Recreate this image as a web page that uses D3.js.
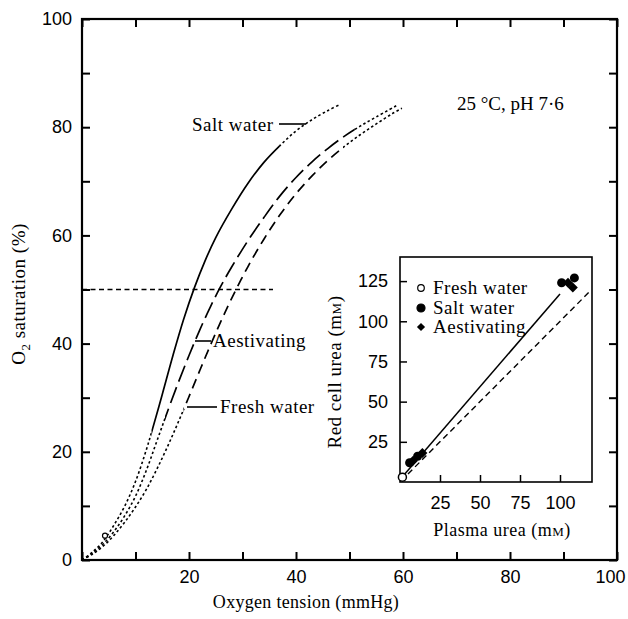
<!DOCTYPE html>
<html>
<head>
<meta charset="utf-8">
<script src="https://cdn.jsdelivr.net/npm/d3@7"></script>
<style>
  body { margin: 0; background: #fff; }
  svg { font-family: "Liberation Serif", "Times New Roman", serif; }
</style>
</head>
<body>
<div id="chart"></div>
<script>
// O2 saturation curves, [mmHg, %]
const saltWater = [[0,0],[2,1.5],[4,3.5],[6,6.5],[8,10],[10,14.5],[12,20.3],[13,23.6],[15,30.6],[17,37.8],[19,44.5],[21,50.3],[23,55.3],[25,59.6],[28,64.9],[31,69.6],[34,73.5],[37,76.6],[40,79.3],[43,81.4],[46,83.1],[48,84.1]];
const aestivating = [[0,0],[2,1.3],[4,3],[6,5.3],[8,8.2],[10,11.8],[12,16.5],[14,22],[16,27.5],[18,32.8],[20,37.8],[22,42.5],[24,46.8],[26,50.7],[28,54.2],[31,59],[34,63.3],[37,67.3],[40,70.7],[43,73.6],[46,76.1],[49,78.3],[52,80.2],[55,81.9],[59,84.1]];
const freshWater = [[0,0],[2,1.1],[4,2.6],[6,4.6],[8,7],[10,9.8],[12,13],[14,16.8],[16,21],[18,25.5],[20,30.2],[22,35],[24,39.7],[26,44.2],[28,48.4],[31,54.2],[34,59.3],[37,63.8],[40,67.7],[43,71],[46,73.9],[49,76.4],[52,78.6],[55,80.6],[58,82.5],[59.8,83.5]];
// range (mmHg) drawn with the curve's own pattern, dotted outside it
const solidRanges = { salt: [13, 37], aest: [15.5, 51], fresh: [19, 48.8] };
const halfSatLine = [[0, 50], [35.7, 50]];
const originMark = [4.3, 4.5];

const mainTicks = d3.range(0, 101, 10);

// inset: red cell urea vs plasma urea (mM)
const insetTicksX = [25, 50, 75, 100];
const insetTicksY = [25, 50, 75, 100, 125];
const insetFresh = [[1.5, 3]];
const insetSalt = [[6, 12], [11, 16], [101, 124], [109, 127]];
const insetAest = [[8, 13], [14, 18], [105, 124], [108, 121]];
const fitLine = [[3, 5], [100, 117]];
const identityLine = [[5, 5], [118, 118]];

const width = 628, height = 619;
const svg = d3.select("#chart").append("svg")
  .attr("width", width).attr("height", height);

const x = d3.scaleLinear().domain([0, 100]).range([82, 617]);
const y = d3.scaleLinear().domain([0, 100]).range([560, 19]);

// axes, ticks pointing inward
const styleAxis = (g) => {
  g.select(".domain").remove();
  g.selectAll(".tick line").attr("stroke", "#000").attr("stroke-width", 2);
  g.selectAll("text").attr("fill", "#000").style("font-size", "18px");
};
const lbl = (d) => (d % 20 === 0 ? d : "");

svg.append("g").attr("transform", `translate(${x(0)},0)`)
  .call(d3.axisLeft(y).tickValues(mainTicks).tickSize(-8).tickPadding(10).tickFormat(lbl))
  .call(styleAxis);
const xAxisG = svg.append("g").attr("transform", `translate(0,${y(0)})`)
  .call(d3.axisBottom(x).tickValues(mainTicks).tickSize(-8).tickPadding(10)
    .tickFormat((d) => (d > 0 && d % 20 === 0 ? d : "")))
  .call(styleAxis);
// keep the last label inside the page
xAxisG.selectAll(".tick text").filter((d) => d === 100).attr("dx", -7);
svg.append("g").attr("transform", `translate(0,${y(100)})`)
  .call(d3.axisTop(x).tickValues(mainTicks).tickSize(-8).tickFormat(""))
  .call(styleAxis);
svg.append("g").attr("transform", `translate(${x(100)},0)`)
  .call(d3.axisRight(y).tickValues(mainTicks).tickSize(-8).tickFormat(""))
  .call(styleAxis);

svg.append("rect")
  .attr("x", x(0)).attr("y", y(100))
  .attr("width", x(100) - x(0)).attr("height", y(0) - y(100))
  .attr("fill", "none").attr("stroke", "#000").attr("stroke-width", 2.2);

// clip regions for solid / dotted parts
const defs = svg.append("defs");
const addClip = (id, x0, x1) => {
  defs.append("clipPath").attr("id", id).append("rect")
    .attr("x", x0).attr("y", 0).attr("width", Math.max(0, x1 - x0)).attr("height", height);
};

const line = d3.line().x((d) => x(d[0])).y((d) => y(d[1])).curve(d3.curveCatmullRom.alpha(0.5));

const curves = [
  { key: "salt", data: saltWater, dash: null },
  { key: "aest", data: aestivating, dash: "17,6" },
  { key: "fresh", data: freshWater, dash: "10,6" },
];
curves.forEach((c) => {
  const [a, b] = solidRanges[c.key];
  addClip(`mid-${c.key}`, x(a), x(b));
  addClip(`lo-${c.key}`, 0, x(a));
  addClip(`hi-${c.key}`, x(b), width);
  svg.append("path").datum(c.data)
    .attr("d", line).attr("fill", "none").attr("stroke", "#000")
    .attr("stroke-width", 1.7)
    .attr("stroke-dasharray", c.dash)
    .attr("clip-path", `url(#mid-${c.key})`);
  ["lo", "hi"].forEach((p) => {
    svg.append("path").datum(c.data)
      .attr("d", line).attr("fill", "none").attr("stroke", "#000")
      .attr("stroke-width", 1.6)
      .attr("stroke-dasharray", "2.5,2.5")
      .attr("clip-path", `url(#${p}-${c.key})`);
  });
});

svg.append("path").datum(halfSatLine)
  .attr("d", d3.line().x((d) => x(d[0])).y((d) => y(d[1])))
  .attr("fill", "none").attr("stroke", "#000").attr("stroke-width", 1.5)
  .attr("stroke-dasharray", "5,3.5");

svg.append("circle").attr("cx", x(originMark[0])).attr("cy", y(originMark[1]))
  .attr("r", 2.5).attr("fill", "#fff").attr("stroke", "#000").attr("stroke-width", 1.2);

// curve labels with leader lines
const annotations = [
  { text: "Salt water", tx: 192, ty: 131, lx1: 279, lx2: 306, ly: 124 },
  { text: "Aestivating", tx: 213, ty: 347, lx1: 195, lx2: 211, ly: 341 },
  { text: "Fresh water", tx: 220, ty: 413, lx1: 187, lx2: 217, ly: 407 },
];
annotations.forEach((a) => {
  svg.append("line").attr("x1", a.lx1).attr("x2", a.lx2).attr("y1", a.ly).attr("y2", a.ly)
    .attr("stroke", "#000").attr("stroke-width", 1.6);
  svg.append("text").attr("x", a.tx).attr("y", a.ty)
    .style("font-size", "19px").style("letter-spacing", "0.5px").text(a.text);
});

svg.append("text").attr("x", 457).attr("y", 110)
  .style("font-size", "19px").text("25 °C, pH 7·6");

// axis titles
svg.append("text").attr("x", 306).attr("y", 608).attr("text-anchor", "middle")
  .style("font-size", "18px").style("letter-spacing", "0.3px").text("Oxygen tension (mmHg)");
const yt = svg.append("text").attr("transform", "translate(25,294) rotate(-90)")
  .attr("text-anchor", "middle").style("font-size", "19px").style("letter-spacing", "0.5px");
yt.append("tspan").text("O");
yt.append("tspan").attr("dy", 5).style("font-size", "13px").text("2");
yt.append("tspan").attr("dy", -5).text(" saturation (%)");

// ----- inset -----
const ix = d3.scaleLinear().domain([0, 120]).range([400, 592]);
const iy = d3.scaleLinear().domain([0, 140]).range([482, 257]);
const inset = svg.append("g");

inset.append("rect").attr("x", ix(0)).attr("y", iy(140))
  .attr("width", ix(120) - ix(0)).attr("height", iy(0) - iy(140))
  .attr("fill", "#fff").attr("stroke", "#000").attr("stroke-width", 1.6);

const styleInset = (g) => {
  g.select(".domain").remove();
  g.selectAll(".tick line").attr("stroke", "#000").attr("stroke-width", 1.5);
  g.selectAll("text").attr("fill", "#000").style("font-size", "18px");
};
inset.append("g").attr("transform", `translate(${ix(0)},0)`)
  .call(d3.axisLeft(iy).tickValues(insetTicksY).tickSize(-7).tickPadding(12))
  .call(styleInset);
inset.append("g").attr("transform", `translate(0,${iy(0)})`)
  .call(d3.axisBottom(ix).tickValues(insetTicksX).tickSize(-7).tickPadding(14))
  .call(styleInset);

const iline = d3.line().x((d) => ix(d[0])).y((d) => iy(d[1]));
inset.append("path").datum(identityLine).attr("d", iline)
  .attr("fill", "none").attr("stroke", "#000").attr("stroke-width", 1.4)
  .attr("stroke-dasharray", "6,4");
inset.append("path").datum(fitLine).attr("d", iline)
  .attr("fill", "none").attr("stroke", "#000").attr("stroke-width", 1.5);

const diamond = (size) => d3.symbol().type(d3.symbolSquare).size(size);
inset.selectAll(".fw").data(insetFresh).join("circle")
  .attr("cx", (d) => ix(d[0])).attr("cy", (d) => iy(d[1])).attr("r", 4)
  .attr("fill", "#fff").attr("stroke", "#000").attr("stroke-width", 1.5);
inset.selectAll(".sw").data(insetSalt).join("circle")
  .attr("cx", (d) => ix(d[0])).attr("cy", (d) => iy(d[1])).attr("r", 4.5)
  .attr("fill", "#000");
inset.selectAll(".ae").data(insetAest).join("path")
  .attr("d", diamond(50))
  .attr("transform", (d) => `translate(${ix(d[0])},${iy(d[1])}) rotate(45)`)
  .attr("fill", "#000");

// legend
const legendItems = [
  { label: "Fresh water", kind: "open", y: 288 },
  { label: "Salt water", kind: "filled", y: 308 },
  { label: "Aestivating", kind: "diamond", y: 327 },
];
legendItems.forEach((d) => {
  if (d.kind === "diamond") {
    inset.append("path").attr("d", diamond(34))
      .attr("transform", `translate(421,${d.y}) rotate(45)`).attr("fill", "#000");
  } else {
    inset.append("circle").attr("cx", 421).attr("cy", d.y).attr("r", d.kind === "open" ? 3.3 : 4)
      .attr("fill", d.kind === "open" ? "#fff" : "#000").attr("stroke", "#000").attr("stroke-width", 1.2);
  }
  inset.append("text").attr("x", 433).attr("y", d.y + 6)
    .style("font-size", "19px").style("letter-spacing", "0.5px").text(d.label);
});

// inset axis titles
const xt = inset.append("text").attr("x", 502).attr("y", 536).attr("text-anchor", "middle")
  .style("font-size", "18px").style("letter-spacing", "0.5px");
xt.append("tspan").text("Plasma urea (m");
xt.append("tspan").style("font-size", "13px").text("M");
xt.append("tspan").text(")");
const it = inset.append("text").attr("transform", "translate(341,372) rotate(-90)")
  .attr("text-anchor", "middle").style("font-size", "19px").style("letter-spacing", "0.5px");
it.append("tspan").text("Red cell urea (m");
it.append("tspan").style("font-size", "13px").text("M");
it.append("tspan").text(")");
</script>
</body>
</html>
